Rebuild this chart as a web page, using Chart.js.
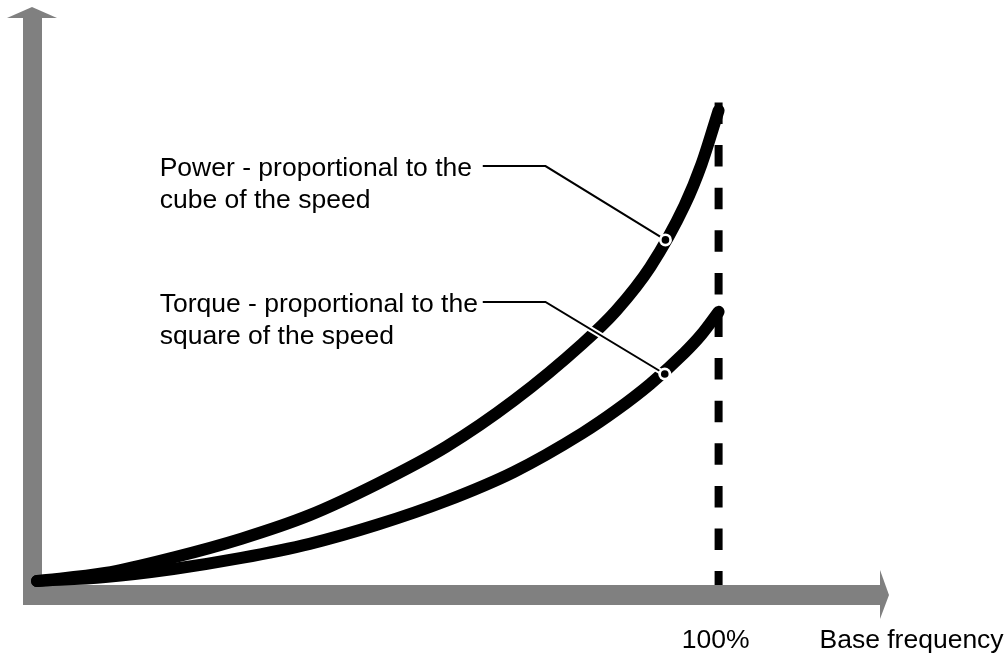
<!DOCTYPE html>
<html>
<head>
<meta charset="utf-8">
<script src="https://cdn.jsdelivr.net/npm/chart.js@4/dist/chart.umd.min.js"></script>
<style>
  html, body { margin: 0; padding: 0; background: #fff; }
  canvas { display: block; }
</style>
</head>
<body>
<canvas id="speed-chart" width="1005" height="657"></canvas>
<script>
// values (x = % of base frequency, y = relative, 100 = power at base)
var speedPct     = [0, 10, 20, 30, 40, 50, 60, 70, 80, 85, 90, 95, 97.5, 100];
var powerValues  = [0, 1.7, 5.0, 9.0, 14.0, 20.7, 28.5, 38.4, 50.4, 57.5, 66.8, 79.8, 88.6, 100];
var torqueValues = [0, 0.85, 2.55, 4.9, 7.9, 12.0, 17.0, 23.2, 31.4, 36.3, 41.9, 48.5, 52.4, 57.2];
var baseLine     = [101.7, -0.85];   // top and bottom of the dashed 100% line
var tickLabels   = ["100%", "Base frequency"];
var powerLabel   = ["Power - proportional to the", "cube of the speed"];
var torqueLabel  = ["Torque - proportional to the", "square of the speed"];

var FONT = '26.5px "Liberation Sans", Arial, Helvetica, sans-serif';
var GREY = "#808080";

function toPoints(ys) {
    return ys.map((y, i) => ({ x: speedPct[i], y: y }));
}

// leader annotations, in data units
var callouts = [
    { lines: powerLabel,  textX: 18, textY: 86.1, lineStart: 65.4, elbow: [74.6, 88.2], dot: [92.2, 72.5] },
    { lines: torqueLabel, textX: 18, textY: 57.2, lineStart: 65.4, elbow: [74.6, 59.3], dot: [92.1, 44.0] }
];

var axesPlugin = {
    id: "axes",
    beforeDatasetsDraw(chart) {
        var c = chart.ctx, xs = chart.scales.x, ys = chart.scales.y;
        var x0 = xs.getPixelForValue(0), y0 = ys.getPixelForValue(0);
        var xEnd = xs.getPixelForValue(125), yTop = ys.getPixelForValue(122);
        c.save();
        c.fillStyle = GREY;
        // vertical axis with arrow
        c.fillRect(x0 - 14, yTop + 11, 19, y0 + 24 - (yTop + 11));
        c.beginPath();
        c.moveTo(x0 - 30, yTop + 11);
        c.lineTo(x0 - 5, yTop);
        c.lineTo(x0 + 20, yTop + 11);
        c.closePath();
        c.fill();
        // horizontal axis with arrow
        c.fillRect(x0 - 14, y0 + 4, xEnd - 9 - (x0 - 14), 20);
        c.beginPath();
        c.moveTo(xEnd - 9, y0 - 11);
        c.lineTo(xEnd, y0 + 14);
        c.lineTo(xEnd - 9, y0 + 38);
        c.closePath();
        c.fill();
        c.restore();
    },
    afterDatasetsDraw(chart) {
        var c = chart.ctx, xs = chart.scales.x, ys = chart.scales.y;
        var px = v => xs.getPixelForValue(v), py = v => ys.getPixelForValue(v);
        c.save();
        c.font = FONT;
        c.fillStyle = "#000";
        c.textBaseline = "alphabetic";
        callouts.forEach(function (co) {
            co.lines.forEach(function (t, i) {
                c.fillText(t, px(co.textX), py(co.textY) + i * 32);
            });
            var pts = [[px(co.lineStart), py(co.elbow[1])], [px(co.elbow[0]), py(co.elbow[1])], [px(co.dot[0]), py(co.dot[1])]];
            [["#fff", 6], ["#000", 2]].forEach(function (s) {
                c.beginPath();
                c.moveTo(pts[0][0], pts[0][1]);
                c.lineTo(pts[1][0], pts[1][1]);
                c.lineTo(pts[2][0], pts[2][1]);
                c.strokeStyle = s[0];
                c.lineWidth = s[1];
                c.lineCap = "butt";
                c.stroke();
            });
            c.beginPath();
            c.arc(pts[2][0], pts[2][1], 6.5, 0, Math.PI * 2);
            c.fillStyle = "#fff";
            c.fill();
            c.beginPath();
            c.arc(pts[2][0], pts[2][1], 3.8, 0, Math.PI * 2);
            c.fillStyle = "#000";
            c.fill();
        });
        var yb = py(0) + 67;
        c.fillText(tickLabels[0], px(94.6), yb);
        c.fillText(tickLabels[1], px(114.8), yb);
        c.restore();
    }
};

var curveStyle = {
    showLine: true,
    borderColor: "#000",
    borderWidth: 12,
    borderCapStyle: "round",
    borderJoinStyle: "round",
    cubicInterpolationMode: "monotone",
    pointRadius: 0,
    clip: false
};

new Chart(document.getElementById("speed-chart"), {
    type: "scatter",
    data: {
        datasets: [
            Object.assign({ label: "Power", data: toPoints(powerValues), order: 1 }, curveStyle),
            Object.assign({ label: "Torque", data: toPoints(torqueValues), order: 2 }, curveStyle),
            {
                label: "Base frequency",
                data: baseLine.map(y => ({ x: 100, y: y })),
                showLine: true,
                borderColor: "#000",
                borderWidth: 8,
                borderDash: [21.5, 21.1],
                borderCapStyle: "butt",
                pointRadius: 0,
                clip: false,
                order: 3
            }
        ]
    },
    options: {
        responsive: false,
        animation: false,
        layout: { padding: { left: 37, right: 116, top: 7, bottom: 76 } },
        plugins: { legend: { display: false }, tooltip: { enabled: false } },
        scales: {
            x: { type: "linear", min: 0, max: 125, display: false },
            y: { type: "linear", min: 0, max: 122, display: false }
        }
    },
    plugins: [axesPlugin]
});
</script>
</body>
</html>
